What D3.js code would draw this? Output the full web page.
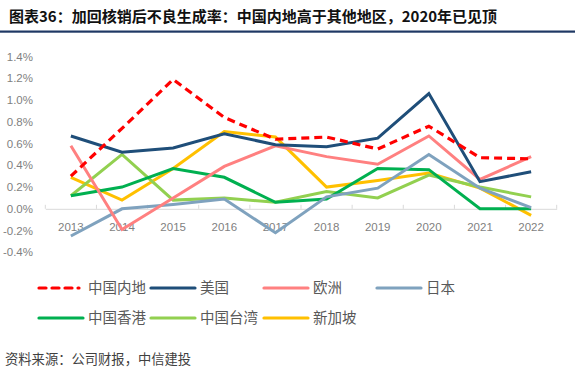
<!DOCTYPE html>
<html><head><meta charset="utf-8">
<script src="https://cdn.jsdelivr.net/npm/d3@7"></script>
<style>body{margin:0;background:#fff;}svg{display:block;}</style>
</head><body>
<svg id="c" width="575" height="370"></svg>
<script>
const years = ["2013","2014","2015","2016","2017","2018","2019","2020","2021","2022"];
const yTicks = [-0.4,-0.2,0,0.2,0.4,0.6,0.8,1.0,1.2,1.4];
const chinaMainland = [0.30,0.74,1.19,0.84,0.64,0.66,0.55,0.76,0.47,0.46];
const usa          = [0.67,0.52,0.56,0.69,0.59,0.57,0.65,1.06,0.25,0.34];
const europe       = [0.58,-0.19,0.10,0.39,0.58,0.48,0.41,0.67,0.27,0.48];
const japan        = [-0.25,0.00,0.04,0.09,-0.22,0.11,0.19,0.50,0.19,0.01];
const hongKong     = [0.12,0.20,0.37,0.29,0.06,0.09,0.37,0.36,0.00,0.00];
const taiwan       = [0.12,0.50,0.08,0.10,0.06,0.16,0.10,0.31,0.20,0.11];
const singapore    = [0.29,0.08,0.37,0.71,0.66,0.20,0.26,0.33,0.19,-0.06];
const seriesNames = ["中国内地","美国","欧洲","日本","中国香港","中国台湾","新加坡"];
const seriesValues = [chinaMainland,usa,europe,japan,hongKong,taiwan,singapore];
const colors = ["#FF0000","#1F4E79","#FF8080","#7FA2BE","#00B050","#92D050","#FFC000"];

const svg = d3.select("#c");
const font = "'Noto Sans CJK SC','Noto Sans',sans-serif";

// title
svg.append("text").attr("x",9).attr("y",22).attr("font-family",font).attr("font-weight","bold")
  .attr("font-size",15).attr("fill","#111").text("图表36：加回核销后不良生成率：中国内地高于其他地区，2020年已见顶");
svg.append("rect").attr("x",0).attr("y",30.5).attr("width",575).attr("height",2.2).attr("fill","#1F3864");

const x = d3.scaleBand().domain(years).range([45.3,556.7]);
const y = d3.scaleLinear().domain([-0.4,1.4]).range([252.3,56.6]);

// y labels
svg.append("g").selectAll("text").data(yTicks).join("text")
  .attr("x",33).attr("y",d=>y(d)).attr("dy","0.35em").attr("text-anchor","end")
  .attr("font-family","'Liberation Sans',Arial,sans-serif").attr("font-size",11.5).attr("fill","#7F7F7F")
  .text(d=>d.toFixed(1)+"%");

// x axis
const xAxis = d3.axisBottom(x).tickSize(0).tickPadding(0);
const gx = svg.append("g").attr("transform",`translate(0,${y(0)})`).call(xAxis);
gx.select(".domain").attr("stroke","#D9D9D9").attr("stroke-width",1);
gx.selectAll("text").attr("y",18).attr("dy","0.35em").attr("font-family","'Liberation Sans',Arial,sans-serif")
  .attr("font-size",11.5).attr("fill","#7F7F7F");
const bounds = years.map(d=>x(d)).concat([x.range()[1]]);
gx.selectAll("line.bt").data(bounds).join("line").attr("class","bt")
  .attr("x1",d=>d).attr("x2",d=>d).attr("y1",-4).attr("y2",0).attr("stroke","#D9D9D9");

const line = d3.line().x((d,i)=>x(years[i])+x.bandwidth()/2).y(d=>y(d));
const order = [6,5,4,3,2,1,0];
order.forEach(k=>{
  svg.append("path").datum(seriesValues[k]).attr("d",line).attr("fill","none")
    .attr("stroke",colors[k]).attr("stroke-width",k===0?3.2:3)
    .attr("stroke-dasharray",k===0?"8,5":null);
});

// legend
const legPos = [[39,288],[151,288],[264,288],[377,288],[39,318],[151,318],[264,318]];
seriesNames.forEach((n,k)=>{
  const [lx,ly]=legPos[k];
  svg.append("line").attr("x1",lx).attr("x2",lx+(k===0?40:44)).attr("y1",ly).attr("y2",ly)
    .attr("stroke",colors[k]).attr("stroke-width",3.2).attr("stroke-linecap","round")
    .attr("stroke-dasharray",k===0?"7,6":null);
  svg.append("text").attr("x",lx+49).attr("y",ly).attr("dy","0.36em").attr("font-family",font)
    .attr("font-size",14.5).attr("fill","#595959").text(n);
});

svg.append("text").attr("x",5).attr("y",359).attr("dy","0.36em").attr("font-family",font)
  .attr("font-size",13.3).attr("fill","#404040").text("资料来源：公司财报，中信建投");
</script>
</body></html>
